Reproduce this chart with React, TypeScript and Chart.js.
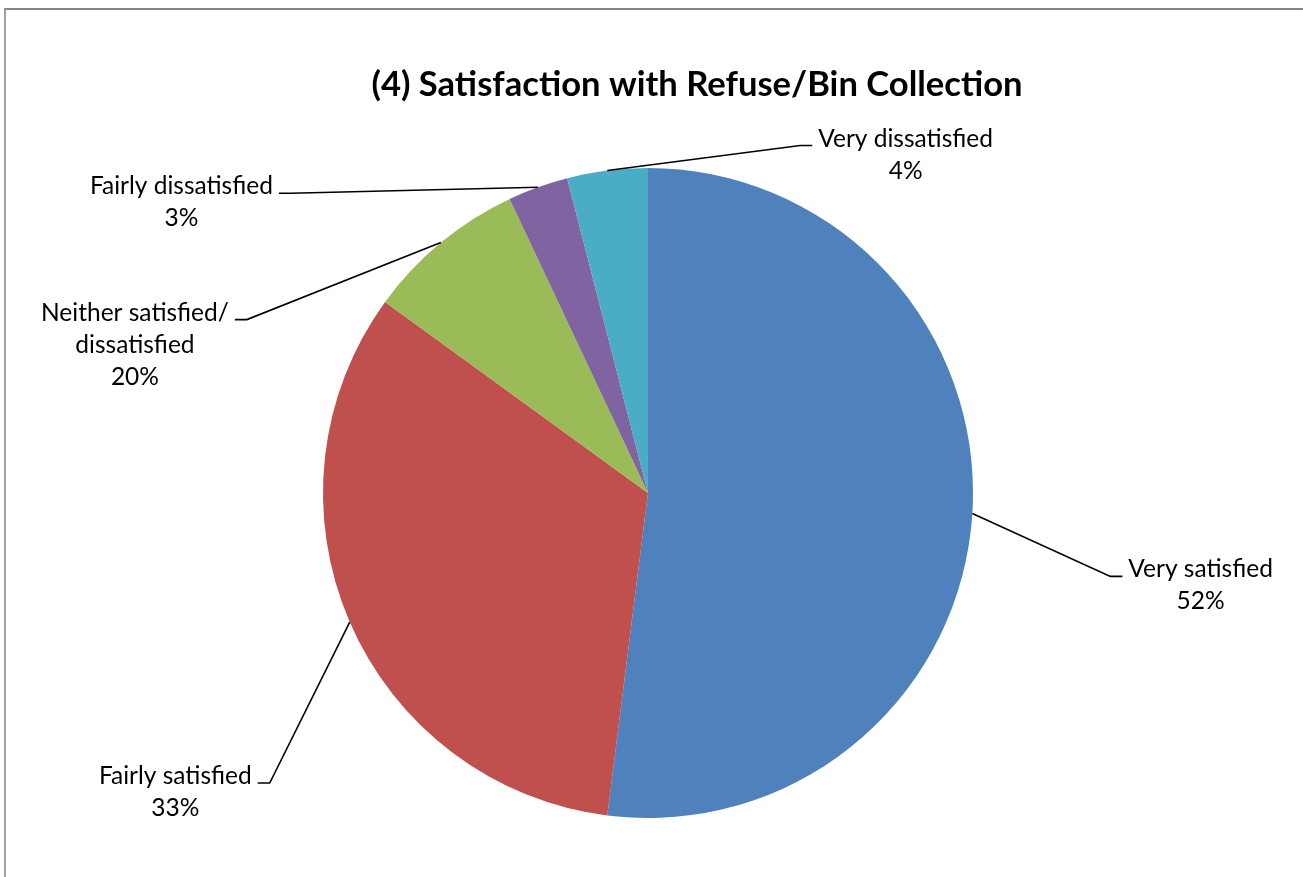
import React, { useEffect, useRef } from "react";
import { Chart, registerables } from "chart.js";

Chart.register(...registerables);

const TITLE = "(4) Satisfaction with Refuse/Bin Collection";
const CATEGORIES = [
  "Very satisfied",
  "Fairly satisfied",
  "Neither satisfied/\ndissatisfied",
  "Fairly dissatisfied",
  "Very dissatisfied",
];
const SLICE_VALUES = [52, 33, 8, 3, 4];
const PERCENT_LABELS = ["52%", "33%", "20%", "3%", "4%"];
const COLORS = ["#4F81BD", "#C0504D", "#9BBB59", "#8064A2", "#4BACC6"];

// leader-line elbow offsets from each slice's outer mid-point (layout only)
const LEADER_OFFSETS: [number, number][] = [
  [138, 63],
  [-80, 161],
  [-194, 77],
  [-247, 6],
  [193, -25],
];

const FONT = "Lato, 'Open Sans', sans-serif";
const LABEL_SIZE = 24.5;
const LINE_H = 32;

const labelPlugin = {
  id: "excelLabels",
  afterDraw(chart: any) {
    const ctx: CanvasRenderingContext2D = chart.ctx;
    ctx.save();
    // title
    ctx.fillStyle = "#000";
    ctx.font = `bold 34.6px ${FONT}`;
    ctx.textAlign = "center";
    ctx.textBaseline = "alphabetic";
    ctx.fillText(TITLE, 697, 96);

    const meta = chart.getDatasetMeta(0);
    ctx.font = `${LABEL_SIZE}px ${FONT}`;
    meta.data.forEach((arc: any, i: number) => {
      const { x, y, startAngle, endAngle, outerRadius } = arc.getProps(
        ["x", "y", "startAngle", "endAngle", "outerRadius"],
        true
      );
      const mid = (startAngle + endAngle) / 2;
      const ax = x + Math.cos(mid) * outerRadius;
      const ay = y + Math.sin(mid) * outerRadius;
      const [dx, dy] = LEADER_OFFSETS[i];
      const ex = ax + dx;
      const ey = ay + dy;
      const side = dx > 0 ? 1 : -1;
      const hx = ex + side * 12;
      ctx.beginPath();
      ctx.strokeStyle = "#000";
      ctx.lineWidth = 1.6;
      ctx.moveTo(ax, ay);
      ctx.lineTo(ex, ey);
      ctx.lineTo(hx, ey);
      ctx.stroke();

      const lines = [...CATEGORIES[i].split("\n"), PERCENT_LABELS[i]];
      const w = Math.max(...lines.map((l) => ctx.measureText(l).width));
      const cx = hx + side * (6 + w / 2);
      ctx.textAlign = "center";
      ctx.fillStyle = "#000";
      lines.forEach((l, k) => {
        ctx.fillText(l, cx, ey + 1 + k * LINE_H);
      });
    });
    ctx.restore();
  },
};

export default function App() {
  const ref = useRef<HTMLCanvasElement>(null);
  useEffect(() => {
    if (!ref.current) return;
    const chart = new Chart(ref.current, {
      type: "pie",
      data: {
        labels: CATEGORIES.map((c) => c.replace("\n", " ")),
        datasets: [
          {
            data: SLICE_VALUES,
            backgroundColor: COLORS,
            borderWidth: 0,
          },
        ],
      },
      options: {
        responsive: false,
        animation: false,
        layout: { padding: { left: 323, right: 330, top: 168, bottom: 59 } },
        plugins: {
          legend: { display: false },
          title: { display: false },
          tooltip: { enabled: false },
        },
      },
      plugins: [labelPlugin],
    });
    return () => chart.destroy();
  }, []);
  return (
    <div style={{ position: "fixed", left: 0, top: 0, width: 1303, height: 877, background: "#fff", overflow: "hidden" }}>
      <div
        style={{
          position: "absolute",
          left: 4,
          top: 8,
          width: 1320,
          height: 900,
          borderTop: "2px solid #878787",
          borderLeft: "2px solid #a0a0a0",
        }}
      />
      <canvas ref={ref} width={1303} height={877} style={{ position: "absolute", left: 0, top: 0 }} />
    </div>
  );
}
